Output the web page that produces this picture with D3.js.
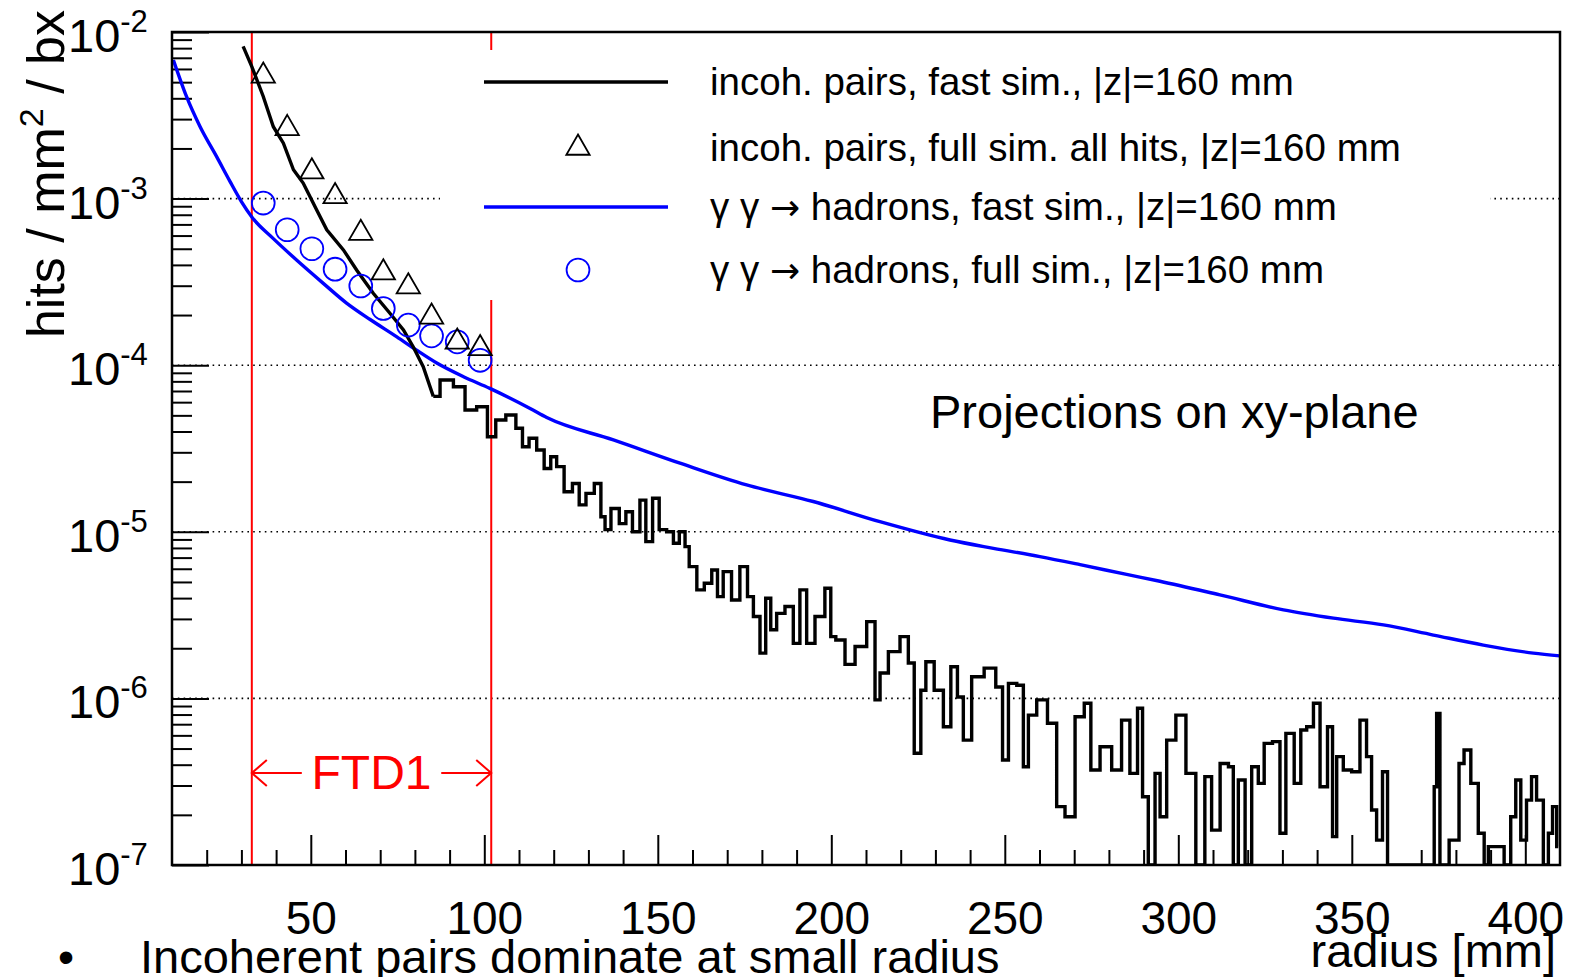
<!DOCTYPE html>
<html>
<head>
<meta charset="utf-8">
<script src="https://cdn.jsdelivr.net/npm/d3@7"></script>
<style>
body{margin:0;background:#fff;}
svg{display:block;font-family:"Liberation Sans",Arial,Helvetica,sans-serif;}
</style>
</head>
<body>
<div id="chart"></div>
<script>
// axis ranges
var xRange=[10,410];
var yRange=[1e-7,1e-2];
var xTickValues=[50,100,150,200,250,300,350,400];
var yTickExps=[-2,-3,-4,-5,-6,-7];
var gridExps=[-3,-4,-5,-6];
var ftdEdges=[33,102];

// incoh. pairs, fast sim. [radius mm, hits/mm2/bx]
var incohFast=[[30.5,8.2e-3],[33.0,6.2e-3],[36.3,4.1e-3],[39.2,2.7e-3],[42.1,2.15e-3],[45.0,1.49e-3],[47.8,1.24e-3],[51.7,8.55e-4],[54.6,6.5e-4],[59.4,4.92e-4],[63.2,3.73e-4],[68.0,2.70e-4],[72.8,2.05e-4],[76.7,1.63e-4],[79.5,1.29e-4],[82.4,9.8e-5],[85.3,6.5e-5],[89.2,8.15e-5],[93.0,7.43e-5],[95.9,5.38e-5],[99.7,5.63e-5],[102.1,3.72e-5],[104.5,4.69e-5],[107.9,5.02e-5],[110.3,4.18e-5],[111.7,3.24e-5],[114.1,3.64e-5],[116.1,3.10e-5],[118.4,2.40e-5],[119.9,2.82e-5],[121.8,2.46e-5],[124.2,1.74e-5],[126.6,1.95e-5],[128.1,1.45e-5],[130.5,1.70e-5],[132.9,1.95e-5],[134.3,1.23e-5],[135.3,1.03e-5],[137.7,1.38e-5],[140.1,1.12e-5],[141.5,1.32e-5],[143.9,1.0e-5],[145.8,1.55e-5],[147.3,8.73e-6],[149.7,1.59e-5],[151.1,1.03e-5],[154.0,1.0e-5],[155.0,8.53e-6],[157.4,1.0e-5],[158.3,8.15e-6],[159.8,6.18e-6],[162.7,4.48e-6],[164.1,4.91e-6],[167.0,5.9e-6],[167.4,4.08e-6],[170.3,5.77e-6],[172.2,3.9e-6],[175.1,6.18e-6],[176.6,4.08e-6],[178.5,3.1e-6],[180.4,1.87e-6],[181.8,3.99e-6],[183.3,2.58e-6],[185.2,3.24e-6],[188.1,3.56e-6],[190.0,2.14e-6],[191.9,4.48e-6],[193.9,2.14e-6],[196.7,3.1e-6],[199.6,4.58e-6],[200.1,2.35e-6],[202.5,2.24e-6],[205.4,1.6e-6],[208.3,2.05e-6],[212.1,2.89e-6],[213.1,9.8e-7],[215.0,1.42e-6],[217.9,1.91e-6],[221.7,2.35e-6],[222.7,1.63e-6],[225.1,4.69e-7],[226.5,1.12e-6],[228.0,1.66e-6],[231.3,1.12e-6],[233.3,6.76e-7],[235.6,1.55e-6],[237.1,1.02e-6],[239.0,5.62e-7],[241.9,1.35e-6],[246.2,1.52e-6],[248.6,1.17e-6],[250.1,4.27e-7],[252.0,1.23e-6],[254.9,1.2e-6],[255.8,3.89e-7],[257.8,7.94e-7],[260.6,9.8e-7],[264.0,7.1e-7],[265.9,2.24e-7],[268.8,1.95e-7],[271.7,7.76e-7],[274.1,9.35e-7],[275.5,3.72e-7],[279.4,5.13e-7],[282.2,3.72e-7],[285.1,7.41e-7],[287.0,3.55e-7],[289.5,8.73e-7],[289.9,2.57e-7],[292.8,1e-7],[293.8,3.55e-7],[295.7,1.95e-7],[297.6,5.62e-7],[301.0,7.94e-7],[303.4,3.55e-7],[306.7,1e-7],[308.6,3.39e-7],[310.6,1.62e-7],[313.5,4.07e-7],[315.4,3.89e-7],[316.3,1e-7],[318.3,3.24e-7],[320.2,1e-7],[322.1,3.89e-7],[324.0,3.09e-7],[325.5,5.37e-7],[328.8,5.5e-7],[329.8,1.55e-7],[332.2,6.17e-7],[334.6,3.09e-7],[336.0,6.46e-7],[338.0,6.76e-7],[339.9,9.35e-7],[341.8,2.95e-7],[344.2,6.76e-7],[344.7,1.48e-7],[346.6,4.47e-7],[348.5,3.72e-7],[351.4,3.63e-7],[353.3,7.41e-7],[355.2,4.47e-7],[356.2,2.14e-7],[358.1,1.41e-7],[359.6,3.63e-7],[361.0,1e-7],[373.5,1e-7],[374.0,2.95e-7],[374.9,8.13e-7],[375.9,1e-7],[380.2,1.41e-7],[381.6,4.07e-7],[383.1,4.9e-7],[385.5,3.09e-7],[387.4,1.55e-7],[388.9,1e-7],[389.8,1.29e-7],[392.7,1.29e-7],[395.1,1e-7],[396.5,1.95e-7],[398.0,3.24e-7],[399.4,1.41e-7],[401.3,2.45e-7],[402.3,3.39e-7],[404.2,2.45e-7],[406.2,1e-7],[407.1,1.55e-7],[408.6,2.24e-7],[409.5,1.29e-7]];
// below this radius the fast-sim histogram is smooth
var smoothUntil=85.3;

// gamma gamma -> hadrons, fast sim.
var hadronFast=[[10.4,6.79e-3],[14.2,4.09e-3],[18.1,2.70e-3],[22.9,1.78e-3],[26.7,1.27e-3],[30.0,9.6e-4],[33.1,7.7e-4],[39.2,5.75e-4],[45.9,4.28e-4],[53.6,3.10e-4],[60.3,2.36e-4],[67.1,1.88e-4],[74.8,1.48e-4],[80.5,1.23e-4],[86.3,1.03e-4],[94.0,8.53e-5],[101.6,7.26e-5],[113.2,5.5e-5],[118.0,4.85e-5],[137.2,3.56e-5],[156.4,2.58e-5],[175.6,1.91e-5],[194.8,1.52e-5],[214.0,1.15e-5],[234.2,8.93e-6],[246.7,7.96e-6],[260.1,7.10e-6],[271.7,6.35e-6],[285.1,5.55e-6],[294.7,5.05e-6],[312.0,4.18e-6],[330.3,3.40e-6],[344.7,3.03e-6],[359.1,2.76e-6],[373.5,2.40e-6],[387.9,2.09e-6],[402.3,1.87e-6],[410,1.80e-6]];

// full simulation points
var fullSimRadius=[36.3,43.2,50.3,57.0,64.4,70.9,78.1,84.8,92.2,98.8];
var incohFull=[5.45e-3,2.64e-3,1.45e-3,1.03e-3,6.2e-4,3.59e-4,2.96e-4,1.95e-4,1.38e-4,1.26e-4];
var hadronFull=[9.4e-4,6.5e-4,5.0e-4,3.77e-4,2.99e-4,2.19e-4,1.74e-4,1.50e-4,1.38e-4,1.07e-4];

var legendLabels=[['incoh. pairs, fast sim., |z|=160 mm'],['incoh. pairs, full sim. all hits, |z|=160 mm'],['\u03b3 \u03b3 ','\u2192',' hadrons, fast sim., |z|=160 mm'],['\u03b3 \u03b3 ','\u2192',' hadrons, full sim., |z|=160 mm']];
var legendKinds=['line','triangle','line','circle'];
var legendColors=['#000','#000','#0000ff','#0000ff'];

Chart=function(_parentElement){
    this.parentElement=_parentElement;
    this.initVis();
};

Chart.prototype.initVis=function(){
    var vis=this;
    vis.margin={left:172,right:10,top:32,bottom:112};
    vis.width=1570-vis.margin.left-vis.margin.right;
    vis.height=977-vis.margin.top-vis.margin.bottom;
    vis.svg=d3.select(vis.parentElement)
        .append('svg')
        .attr('width',1570)
        .attr('height',977);
    vis.g=vis.svg.append('g')
        .attr('transform','translate('+vis.margin.left+','+vis.margin.top+')');

    vis.x=d3.scaleLinear().domain(xRange).range([0,vis.width]);
    vis.y=d3.scaleLog().domain(yRange).range([vis.height,0]).clamp(true);

    vis.svg.append('clipPath').attr('id','plotclip')
        .append('rect').attr('width',vis.width).attr('height',vis.height);

    vis.updateVis();
};

Chart.prototype.updateVis=function(){
    var vis=this;

    // grid, horizontal only
    vis.g.selectAll('.grid').data(gridExps).enter()
        .append('line')
        .attr('class','grid')
        .attr('x1',0).attr('x2',vis.width)
        .attr('y1',function(d){return vis.y(Math.pow(10,d));})
        .attr('y2',function(d){return vis.y(Math.pow(10,d));})
        .attr('stroke','#000')
        .attr('stroke-width',1.6)
        .attr('stroke-dasharray','1.6,4.2');

    // ticks
    var xMinor=d3.range(20,410,10).filter(function(d){return d%50!==0;});
    var xAxisMinor=vis.g.append('g')
        .attr('transform','translate(0,'+vis.height+')')
        .call(d3.axisBottom(vis.x).tickValues(xMinor).tickSize(-15).tickFormat(''));
    var xAxisMajor=vis.g.append('g')
        .attr('transform','translate(0,'+vis.height+')')
        .call(d3.axisBottom(vis.x).tickValues(xTickValues).tickSize(-30).tickPadding(36).tickFormat(d3.format('d')));
    xAxisMajor.selectAll('text')
        .attr('font-size',46)
        .attr('font-family','"Liberation Sans",Arial,sans-serif')
        .attr('fill','#000');

    var yMinor=[];
    yTickExps.forEach(function(e){
        for(var k=2;k<10;k++){
            var v=k*Math.pow(10,e);
            if(v<yRange[1]) yMinor.push(v);
        }
    });
    var yAxisMinor=vis.g.append('g')
        .call(d3.axisLeft(vis.y).tickValues(yMinor).tickSize(-20).tickFormat(''));
    var yAxisMajor=vis.g.append('g')
        .call(d3.axisLeft(vis.y).tickValues(yTickExps.map(function(e){return Math.pow(10,e);})).tickSize(-37).tickFormat(''));
    [xAxisMinor,xAxisMajor,yAxisMinor,yAxisMajor].forEach(function(a){
        a.select('.domain').remove();
        a.selectAll('line').attr('stroke','#000').attr('stroke-width',2);
    });

    // y tick labels 10^n
    var ylab=vis.g.selectAll('.ylab').data(yTickExps).enter()
        .append('text')
        .attr('class','ylab')
        .attr('x',68-vis.margin.left)
        .attr('y',function(d){return vis.y(Math.pow(10,d))+20;})
        .attr('font-size',47);
    ylab.append('tspan').text('10');
    ylab.append('tspan')
        .attr('dy',-20)
        .attr('font-size',31)
        .text(function(d){return d;});

    // FTD1 edges
    vis.g.selectAll('.ftd').data(ftdEdges).enter()
        .append('line')
        .attr('class','ftd')
        .attr('x1',function(d){return vis.x(d);})
        .attr('x2',function(d){return vis.x(d);})
        .attr('y1',0).attr('y2',vis.height)
        .attr('stroke','#ff0000')
        .attr('stroke-width',2);

    var ya=773-vis.margin.top;
    var xl=vis.x(ftdEdges[0]), xr=vis.x(ftdEdges[1]);
    vis.g.append('path')
        .attr('d','M'+xl+','+ya+'H'+(xl+50)+'M'+(xl+15)+','+(ya-13)+'L'+xl+','+ya+'L'+(xl+15)+','+(ya+13)
            +'M'+xr+','+ya+'H'+(xr-50)+'M'+(xr-15)+','+(ya-13)+'L'+xr+','+ya+'L'+(xr-15)+','+(ya+13))
        .attr('fill','none')
        .attr('stroke','#ff0000')
        .attr('stroke-width',2);
    vis.g.append('text')
        .attr('x',(xl+xr)/2)
        .attr('y',789-vis.margin.top)
        .attr('text-anchor','middle')
        .attr('font-size',48)
        .attr('fill','#ff0000')
        .text('FTD1');

    // curves
    var plot=vis.g.append('g').attr('clip-path','url(#plotclip)');
    var line=d3.line()
        .x(function(d){return vis.x(d[0]);})
        .y(function(d){return vis.y(d[1]);});

    plot.append('path')
        .datum(hadronFast)
        .attr('d',line.curve(d3.curveMonotoneX))
        .attr('fill','none')
        .attr('stroke','#0000ff')
        .attr('stroke-width',3.4);

    var smoothPart=incohFast.filter(function(d){return d[0]<=smoothUntil;});
    var noisyPart=incohFast.filter(function(d){return d[0]>=smoothUntil;});
    plot.append('path')
        .datum(smoothPart)
        .attr('d',line.curve(d3.curveLinear))
        .attr('fill','none')
        .attr('stroke','#000')
        .attr('stroke-width',3.4);
    plot.append('path')
        .datum(noisyPart)
        .attr('d',line.curve(d3.curveStep))
        .attr('fill','none')
        .attr('stroke','#000')
        .attr('stroke-width',3.4);

    var tri=d3.symbol().type(d3.symbolTriangle).size(235);
    var circ=d3.symbol().type(d3.symbolCircle).size(410);

    plot.selectAll('.hfull').data(fullSimRadius).enter()
        .append('path')
        .attr('class','hfull')
        .attr('d',circ)
        .attr('transform',function(d,i){return 'translate('+vis.x(d)+','+vis.y(hadronFull[i])+')';})
        .attr('fill','none')
        .attr('stroke','#0000ff')
        .attr('stroke-width',1.8);

    plot.selectAll('.ifull').data(fullSimRadius).enter()
        .append('path')
        .attr('class','ifull')
        .attr('d',tri)
        .attr('transform',function(d,i){return 'translate('+vis.x(d)+','+vis.y(incohFull[i])+')';})
        .attr('fill','none')
        .attr('stroke','#000')
        .attr('stroke-width',1.8);

    // legend
    var lg=vis.g.append('g')
        .attr('transform','translate('+(440-vis.margin.left)+','+(50-vis.margin.top)+')');
    lg.append('rect')
        .attr('width',1050)
        .attr('height',250)
        .attr('fill','#fff');
    var rowY=[32,98,157,220];
    legendLabels.forEach(function(parts,i){
        var row=lg.append('g').attr('transform','translate(0,'+rowY[i]+')');
        if(legendKinds[i]==='line'){
            row.append('line')
                .attr('x1',44).attr('x2',228)
                .attr('stroke',legendColors[i])
                .attr('stroke-width',3.5);
        }else{
            row.append('path')
                .attr('d',legendKinds[i]==='triangle'?tri:circ)
                .attr('transform','translate(138,0)')
                .attr('fill','none')
                .attr('stroke',legendColors[i])
                .attr('stroke-width',1.8);
        }
        var t=row.append('text')
            .attr('x',270)
            .attr('y',13)
            .attr('font-size',38.5)
            .attr('fill','#000');
        parts.forEach(function(p){
            var s=t.append('tspan').text(p);
            if(p==='\u2192') s.attr('font-family','"DejaVu Sans",sans-serif').attr('font-size',36);
        });
    });

    // frame
    vis.g.append('rect')
        .attr('width',vis.width)
        .attr('height',vis.height)
        .attr('fill','none')
        .attr('stroke','#000')
        .attr('stroke-width',2.5);

    // texts
    vis.g.append('text')
        .attr('x',930-vis.margin.left)
        .attr('y',428-vis.margin.top)
        .attr('font-size',47)
        .text('Projections on xy-plane');

    var yt=vis.svg.append('text')
        .attr('transform','translate(64,10) rotate(-90)')
        .attr('text-anchor','end')
        .attr('font-size',52);
    yt.append('tspan').text('hits / mm');
    yt.append('tspan').attr('dy',-21).attr('font-size',34).text('2');
    yt.append('tspan').attr('dy',21).text(' / bx');

    vis.svg.append('text')
        .attr('x',1556)
        .attr('y',967)
        .attr('text-anchor','end')
        .attr('font-size',47)
        .text('radius [mm]');

    vis.svg.append('text')
        .attr('x',58)
        .attr('y',973)
        .attr('font-size',46)
        .text('\u2022');
    vis.svg.append('text')
        .attr('x',140)
        .attr('y',973)
        .attr('font-size',47)
        .text('Incoherent pairs dominate at small radius');
};

new Chart('#chart');
</script>
</body>
</html>
